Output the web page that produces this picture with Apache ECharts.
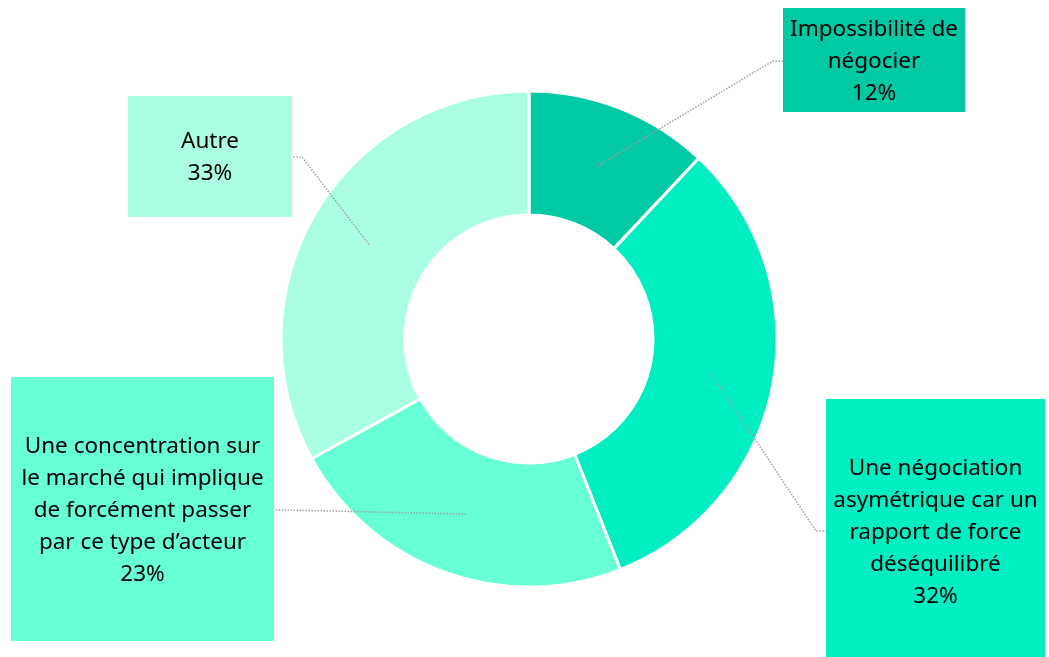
<!DOCTYPE html>
<html>
<head>
<meta charset="utf-8">
<script src="https://cdn.jsdelivr.net/npm/echarts@6/dist/echarts.min.js"></script>
<style>
html,body{margin:0;padding:0;background:#fff;}
#chart{width:1049px;height:657px;}
</style>
</head>
<body>
<div id="chart"></div>
<script>
// Data
const categories = [
  "Impossibilité de\nnégocier",
  "Une négociation\nasymétrique car un\nrapport de force\ndéséquilibré",
  "Une concentration sur\nle marché qui implique\nde forcément passer\npar ce type d’acteur",
  "Autre"
];
const values = [12, 32, 23, 33];
const colors = ["#00C9A3", "#00EFC2", "#66FFD6", "#AAFFE2"];

// Label box layout (left, top, width, padTop, padBottom, line y, side)
const boxes = [
  {left: 783, top: 8,   w: 182, pt: 6,  pb: 2,  ly: 61,  side: 'left'},
  {left: 826, top: 399, w: 219, pt: 54, pb: 60, ly: 531, side: 'left'},
  {left: 11,  top: 377, w: 263, pt: 54, pb: 50, ly: 510, side: 'right'},
  {left: 128, top: 96,  w: 164, pt: 30, pb: 27, ly: 157, side: 'right'}
];

const chart = echarts.init(document.getElementById('chart'));
const font = '"Noto Sans", sans-serif';

const labelData = categories.map((c, i) => ({
  name: c,
  value: values[i],
  itemStyle: {color: 'rgba(255,255,255,0)'},
  label: {
    backgroundColor: colors[i],
    width: boxes[i].w,
    padding: [boxes[i].pt, 0, boxes[i].pb, 0]
  }
}));

const option = {
  animation: false,
  series: [
    {
      type: 'pie',
      center: ['50.43%', '51.6%'],
      radius: [124, 248],
      startAngle: 90,
      clockwise: true,
      silent: true,
      itemStyle: {borderColor: '#ffffff', borderWidth: 3},
      label: {show: false},
      labelLine: {show: false},
      data: categories.map((c, i) => ({name: c, value: values[i], itemStyle: {color: colors[i]}}))
    },
    {
      type: 'pie',
      center: ['50.43%', '51.6%'],
      radius: [0, 186],
      startAngle: 90,
      clockwise: true,
      silent: true,
      z: 5,
      itemStyle: {color: 'rgba(255,255,255,0)', borderWidth: 0},
      emphasis: {disabled: true},
      label: {
        show: true,
        position: 'outer',
        color: '#000',
        fontFamily: font,
        fontSize: 22.5,
        lineHeight: 32,
        align: 'center',
        formatter: p => p.name + '\n' + p.value + '%'
      },
      labelLine: {
        show: true,
        length: 10,
        length2: 10,
        smooth: false,
        lineStyle: {color: '#a0a0a0', width: 1.5, type: [1.5, 1.5]}
      },
      labelLayout: function (params) {
        const b = boxes[params.dataIndex];
        const start = params.labelLinePoints[0];
        const endX = b.side === 'left' ? b.left : b.left + b.w;
        const kneeX = b.side === 'left' ? endX - 10 : endX + 10;
        return {
          x: b.left + b.w / 2,
          y: b.top,
          align: 'center',
          verticalAlign: 'top',
          labelLinePoints: [start, [kneeX, b.ly], [endX, b.ly]]
        };
      },
      data: labelData
    }
  ]
};
chart.setOption(option);
</script>
</body>
</html>
